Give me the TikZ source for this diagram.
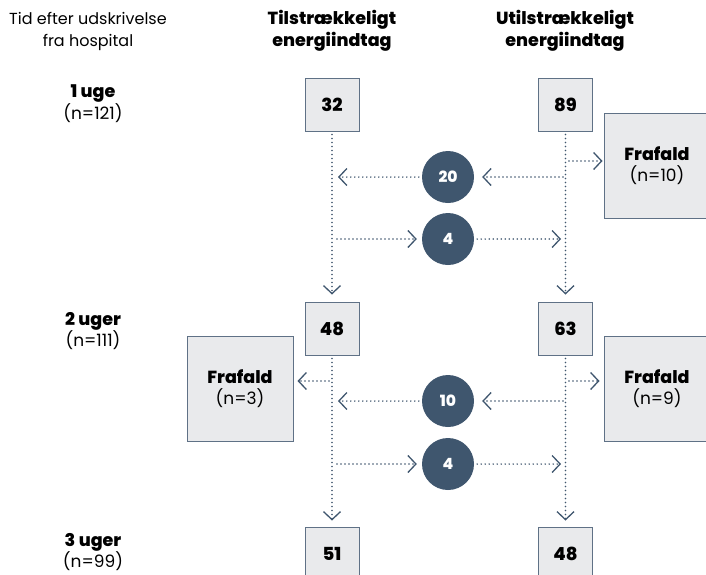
\documentclass[tikz,border=0pt]{standalone}
\usepackage{fontspec}
\setmainfont{Poppins}[BoldFont={Poppins ExtraBold}]
\usetikzlibrary{arrows.meta}
\definecolor{slate}{HTML}{3F566E}
\definecolor{boxfill}{HTML}{E9EAEC}
\definecolor{boxline}{HTML}{5F7186}
\newcommand{\bigbold}[1]{{\bfseries\fontsize{17.5}{20}\selectfont #1}}
\begin{document}
\begin{tikzpicture}[x=1pt,y=-1pt,
  numbox/.style={draw=boxline, fill=boxfill, line width=1pt, minimum width=54pt, minimum height=53pt, inner sep=0pt, font=\bfseries\fontsize{18}{20}\selectfont},
  dropbox/.style={draw=boxline, fill=boxfill, line width=1pt, minimum width=106pt, minimum height=105pt, inner sep=0pt, align=center, font=\fontsize{17}{21}\selectfont},
  circ/.style={circle, fill=slate, minimum size=52pt, inner sep=0pt, text=white, font=\bfseries\fontsize{15.5}{17}\selectfont},
  hdr/.style={align=center, font=\fontsize{16}{22}\selectfont},
  bhdr/.style={align=center, font=\bfseries\fontsize{17.5}{22}\selectfont},
  rowlab/.style={align=center, font=\fontsize{17}{18.5}\selectfont},
  arr/.style={draw=slate, line width=1.6pt, line cap=round, dash pattern=on 0pt off 4pt, -{Straight Barb[length=8pt,width=17pt,line width=1.3pt]}}
]
\useasboundingbox (0,0) rectangle (706,574);

% headers
\node[hdr] (h0) at (88,31) {Tid efter udskrivelse\\fra hospital};
\node[bhdr] (h1) at (332,31) {Tilstrækkeligt\\energiindtag};
\node[bhdr] (h2) at (565,31) {Utilstrækkeligt\\energiindtag};

% row labels
\node[rowlab] (r1) at (93,104) {\bigbold{1 uge}\\(n=121)};
\node[rowlab] (r2) at (93,331) {\bigbold{2 uger}\\(n=111)};
\node[rowlab] (r3) at (93,552) {\bigbold{3 uger}\\(n=99)};

% boxes
\node[numbox] (b32) at (332,104.5) {32};
\node[numbox] (b89) at (565.5,104.5) {89};
\node[numbox] (b48) at (332,328.5) {48};
\node[numbox] (b63) at (565.5,328.5) {63};
\node[numbox] (b51) at (332,553.5) {51};
\node[numbox] (b48b) at (565.5,553.5) {48};

\node[dropbox] (f1) at (657,166) {\bigbold{Frafald}\\(n=10)};
\node[dropbox] (f2) at (240,389) {\bigbold{Frafald}\\(n=3)};
\node[dropbox] (f3) at (657,389) {\bigbold{Frafald}\\(n=9)};

% circles
\node[circ] (c20) at (448,177) {20};
\node[circ] (c4a) at (448,239) {4};
\node[circ] (c10) at (448,401) {10};
\node[circ] (c4b) at (448,464) {4};

% coordinates on the column lines
\coordinate (ra0) at (566,161);
\coordinate (ra1) at (566,177);
\coordinate (la1) at (332,177);
\coordinate (la2) at (332,239);
\coordinate (ra2) at (566,239);
\coordinate (lb0) at (332,381);
\coordinate (rb0) at (566,381);
\coordinate (rb1) at (566,401);
\coordinate (lb1) at (332,401);
\coordinate (lb2) at (332,464);
\coordinate (rb2) at (566,464);

% vertical connectors
\draw[arr, shorten <=3pt, shorten >=7pt] (b32) -- (b48);
\draw[arr, shorten <=3pt, shorten >=7pt] (b89) -- (b63);
\draw[arr, shorten <=3pt, shorten >=6pt] (b48) -- (b51);
\draw[arr, shorten <=3pt, shorten >=6pt] (b63) -- (b48b);

% week 1 transitions
\draw[arr, shorten <=3pt, shorten >=1pt] (ra0) -- (f1.west |- ra0);
\draw[arr, shorten <=3pt, shorten >=8pt] (ra1) -- (c20.east);
\draw[arr, shorten <=3pt, shorten >=6pt] (c20.west) -- (la1);
\draw[arr, shorten <=5pt, shorten >=5pt] (la2) -- (c4a.west);
\draw[arr, shorten <=3pt, shorten >=5pt] (c4a.east) -- (ra2);

% week 2 transitions
\draw[arr, shorten <=3pt, shorten >=4pt] (lb0) -- (f2.east |- lb0);
\draw[arr, shorten <=3pt, shorten >=4pt] (rb0) -- (f3.west |- rb0);
\draw[arr, shorten <=3pt, shorten >=8pt] (rb1) -- (c10.east);
\draw[arr, shorten <=3pt, shorten >=6pt] (c10.west) -- (lb1);
\draw[arr, shorten <=5pt, shorten >=5pt] (lb2) -- (c4b.west);
\draw[arr, shorten <=3pt, shorten >=5pt] (c4b.east) -- (rb2);
\end{tikzpicture}
\end{document}
